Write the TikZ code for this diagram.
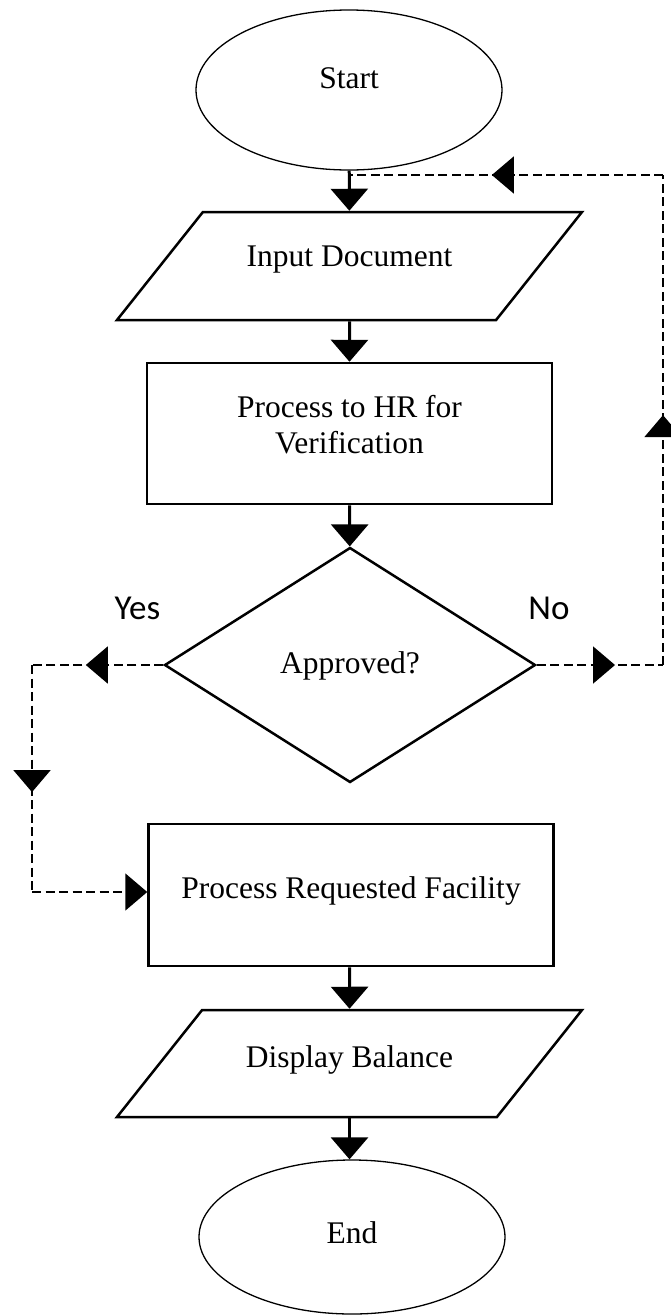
\documentclass[tikz,border=0pt]{standalone}
\usepackage{fontspec}
\setmainfont{Liberation Serif}
\newfontfamily\answerfont{Carlito}
\usetikzlibrary{shapes.geometric,arrows.meta,decorations.markings}

\tikzset{
  chart/.style={draw, font=\fontsize{31.5}{36}\selectfont, text height=22pt, text depth=16pt},
  terminal/.style={chart, ellipse, line width=1.3pt, minimum width=306pt},
  io/.style={chart, trapezium, trapezium left angle=51.5, trapezium right angle=128.5,
    trapezium stretches body, minimum width=465pt, line width=2.5pt},
  process/.style={chart, rectangle, align=center, minimum width=405pt, minimum height=141pt, line width=2.5pt},
  decision/.style={chart, diamond, inner sep=0pt, minimum width=371pt, minimum height=235pt, line width=2.5pt},
  loopline/.style={dash pattern=on 9pt off 4.5pt, line width=1.8pt},
  midtip/.style={postaction={decorate, decoration={markings, mark=at position #1 with {\arrow{>}}}}},
  answer/.style={font=\answerfont\fontsize{35}{42}\selectfont, anchor=base},
}

\begin{document}
\begin{tikzpicture}[x=1pt, y=-1pt, >={Triangle[width=37pt,length=22pt]}, line width=3pt]
    \useasboundingbox (0,0) rectangle (671,1315);

    \node (start) [terminal, minimum height=160pt, text depth=26pt] at (349,90) {Start};
    \node (input) [io, text depth=22pt, inner ysep=32pt] at (349.5,266) {Input Document};
    \node (hrcheck) [process, text height=58pt, text depth=19pt] at (349.5,433.5) {Process to HR for\\Verification};
    \node (approve) [decision, text depth=6pt] at (350,665) {Approved?};
    \node (facility) [process, minimum height=142pt] at (351,895) {Process Requested Facility};
    \node (display) [io, text depth=15pt, inner ysep=35pt] at (349.5,1063.5) {Display Balance};
    \node (stop) [terminal, minimum height=154pt, text depth=10pt] at (352,1237) {End};

    \node (yes) [answer] at (137.5,619) {Yes};
    \node (no) [answer] at (549,619) {No};

    \draw[->] (start) -- (input);
    \draw[->] (input) -- (hrcheck);
    \draw[->] (hrcheck) -- (approve);
    \draw[->] (facility.south -| display.north) -- (display);
    \draw[->] (display.south) -- (display.south |- stop.north);

    % rejected: back round to the input
    \coordinate (noright) at (663,665);
    \coordinate (notop) at (663,175);
    \draw[loopline, midtip=0.62] (approve.east) -- (noright);
    \draw[loopline, midtip=0.51] (noright) -- (notop);
    \draw[loopline, midtip=0.545] (notop) -- (notop -| start.south);

    % approved: on to the facility
    \coordinate (yesleft) at (32,665);
    \coordinate (yesdown) at (32,892);
    \draw[loopline, midtip=0.59] (approve.west) -- (yesleft);
    \draw[loopline, midtip=0.56] (yesleft) -- (yesdown);
    \draw[loopline, ->] (yesdown) -- (yesdown -| facility.west);
\end{tikzpicture}
\end{document}
